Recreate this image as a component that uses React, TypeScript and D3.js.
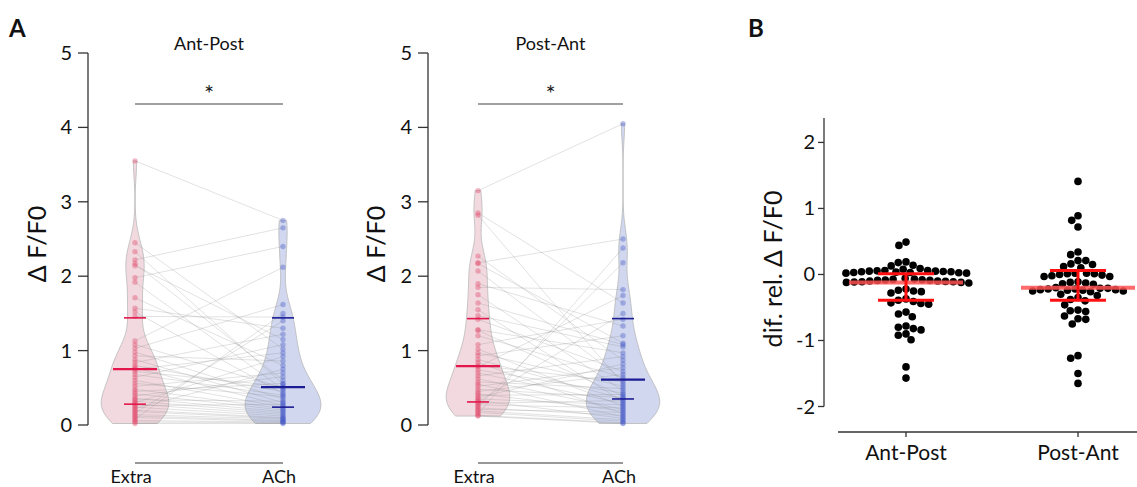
import React from "react";
import * as d3 from "d3";

// ---------------- DATA ----------------
const conditions = ["Extra", "ACh"];
const panelTitles = ["Ant-Post", "Post-Ant"];
const yTicksA = [0, 1, 2, 3, 4, 5];
const yTicksB = [-2, -1, 0, 1, 2];
const groupsB = ["Ant-Post", "Post-Ant"];

// paired values (index i of Extra pairs with index i of ACh)
const antPostExtra = [3.55, 2.45, 2.33, 2.22, 2.17, 2.14, 1.98, 1.92, 1.71, 1.57, 1.52, 1.46, 1.13, 1.08, 1.03, 0.98, 0.93, 0.88, 0.84, 0.8, 0.77, 0.75, 0.72, 0.68, 0.64, 0.6, 0.56, 0.52, 0.48, 0.45, 0.42, 0.39, 0.36, 0.34, 0.32, 0.3, 0.28, 0.26, 0.24, 0.22, 0.2, 0.18, 0.16, 0.14, 0.12, 0.1, 0.08, 0.06, 0.04, 0.02];
const antPostACh = [2.75, 1.02, 0.55, 2.65, 0.6, 1.15, 2.4, 0.48, 0.8, 1.3, 0.42, 1.45, 2.12, 0.5, 1.62, 0.35, 0.86, 0.3, 1.22, 0.45, 0.26, 0.97, 0.52, 0.4, 1.08, 0.24, 0.38, 0.7, 0.22, 0.56, 0.2, 0.65, 0.18, 0.32, 0.16, 0.92, 0.14, 0.28, 0.12, 0.75, 0.1, 0.09, 1.4, 0.08, 0.06, 0.05, 1.5, 0.04, 0.03, 0.02];
const postAntExtra = [3.15, 2.85, 2.82, 2.27, 2.18, 2.17, 2.07, 1.9, 1.85, 1.75, 1.64, 1.55, 1.47, 1.42, 1.28, 1.27, 1.2, 1.08, 1.02, 0.97, 0.93, 0.88, 0.84, 0.8, 0.78, 0.74, 0.7, 0.66, 0.62, 0.58, 0.55, 0.52, 0.48, 0.45, 0.42, 0.4, 0.37, 0.35, 0.33, 0.31, 0.29, 0.27, 0.25, 0.23, 0.21, 0.19, 0.17, 0.15, 0.13, 0.12];
const postAntACh = [4.05, 1.64, 0.55, 0.87, 2.5, 1.1, 0.61, 1.33, 1.82, 0.46, 1.08, 0.31, 1.05, 0.72, 0.97, 0.39, 0.64, 1.42, 0.25, 0.52, 1.2, 0.35, 0.15, 0.58, 1.74, 0.43, 0.29, 0.92, 0.21, 0.49, 0.11, 0.77, 0.37, 0.68, 0.19, 0.41, 0.82, 0.27, 0.09, 1.5, 0.33, 0.23, 2.18, 0.13, 0.17, 0.07, 0.05, 2.38, 0.03, 0.02];

// [lower, median, upper] lines drawn on each violin
const antPostExtraStats = [0.28, 0.75, 1.44];
const antPostAChStats = [0.24, 0.51, 1.44];
const postAntExtraStats = [0.31, 0.79, 1.43];
const postAntAChStats = [0.35, 0.61, 1.43];

// panel B
const diffAntPost = [0.49, 0.44, 0.19, 0.18, 0.14, 0.13, 0.09, 0.08,
  0.06, 0.06, 0.055, 0.05, 0.05, 0.045, 0.04, 0.04, 0.035, 0.03, 0.03, 0.025, 0.02, 0.02,
  -0.06, -0.07, -0.075, -0.08, -0.085, -0.09, -0.09, -0.1, -0.1, -0.105, -0.11, -0.11, -0.115, -0.12, -0.12, -0.13,
  -0.22, -0.24, -0.25, -0.26, -0.28, -0.37, -0.39, -0.41, -0.43, -0.44, -0.45, -0.57, -0.6, -0.64,
  -0.78, -0.8, -0.82, -0.84, -0.9, -0.92, -0.99, -1.4, -1.57];
const diffPostAnt = [1.41, 0.89, 0.82, 0.72, 0.34, 0.3, 0.21, 0.21, 0.16, 0.15, 0.12, 0.1,
  0.02, 0.02, 0.01, 0.01, 0.0, -0.01, -0.02, -0.03, -0.03,
  -0.11, -0.12, -0.13, -0.14, -0.15,
  -0.2, -0.21, -0.21, -0.22, -0.22, -0.23, -0.23, -0.24, -0.24, -0.25, -0.25, -0.26,
  -0.3, -0.32, -0.35, -0.38, -0.4,
  -0.46, -0.54, -0.55, -0.56, -0.63, -0.67, -0.68, -0.75, -1.23, -1.27, -1.5, -1.65];
// [q1, median, q3]
const statsAntPost = [-0.39, -0.12, 0.01];
const statsPostAnt = [-0.39, -0.2, 0.06];

// ---------------- STYLE ----------------
const FONT = "Lato, 'Open Sans', sans-serif";
const AX = "#333";
const extraCol = { fill: "rgba(214, 140, 158, 0.33)", dot: "rgba(225, 70, 105, 0.38)", line: "#e3174b" };
const achCol = { fill: "rgba(120, 140, 210, 0.35)", dot: "rgba(70, 90, 200, 0.38)", line: "#1c1c94" };

function kde(values: number[], bw: number, lo: number, hi: number, n = 80) {
  return d3.range(n + 1).map((i) => {
    const x = lo + ((hi - lo) * i) / n;
    const d = (d3.mean(values, (v) => Math.exp(-0.5 * ((x - v) / bw) ** 2)) as number) / (bw * Math.sqrt(2 * Math.PI));
    return [x, d] as [number, number];
  });
}

const BW = 0.22;
const allSets = [antPostExtra, antPostACh, postAntExtra, postAntACh];
const globalMax = d3.max(allSets, (s) => d3.max(kde(s, BW, d3.min(s)!, d3.max(s)!), (p) => p[1]))!;
const widthScale = 38 / globalMax;

const yA = d3.scaleLinear().domain([0, 5]).range([425, 53]);
const yB = d3.scaleLinear().domain([-2, 2.37]).range([406.5, 118]);

function Violin({ values, cx, col }: any) {
  const dens = kde(values, BW, d3.min(values)!, d3.max(values)!);
  const area = d3
    .area<[number, number]>()
    .y((p) => yA(p[0]))
    .x0((p) => cx - p[1] * widthScale)
    .x1((p) => cx + p[1] * widthScale)
    .curve(d3.curveBasis);
  return <path d={area(dens)!} fill={col.fill} stroke="#b9b9b9" strokeWidth={0.8} />;
}

function StatLines({ stats, cx, col }: any) {
  return (
    <g stroke={col.line}>
      <line x1={cx - 11} x2={cx + 11} y1={yA(stats[0])} y2={yA(stats[0])} strokeWidth={1.6} />
      <line x1={cx - 22} x2={cx + 22} y1={yA(stats[1])} y2={yA(stats[1])} strokeWidth={2.2} />
      <line x1={cx - 11} x2={cx + 11} y1={yA(stats[2])} y2={yA(stats[2])} strokeWidth={1.6} />
    </g>
  );
}

function PanelA({ title, extra, ach, statsE, statsA, axisX, xE, xA, labelX }: any) {
  return (
    <g fontFamily={FONT}>
      {/* y axis */}
      <line x1={axisX} x2={axisX} y1={yA(0)} y2={yA(5)} stroke={AX} strokeWidth={1.3} />
      {yTicksA.map((t) => (
        <g key={t}>
          <line x1={axisX - 10} x2={axisX} y1={yA(t)} y2={yA(t)} stroke={AX} strokeWidth={1.3} />
          <text x={axisX - 16} y={yA(t) + 7} textAnchor="end" fontSize={20} fill="#111">{t}</text>
        </g>
      ))}
      <text transform={`translate(${labelX},${(yA(0) + yA(5)) / 2 + 5}) rotate(-90)`} textAnchor="middle" fontSize={25} fill="#111">Δ F/F0</text>
      <text x={(xE + xA) / 2} y={50} textAnchor="middle" fontSize={18} fill="#111">{title}</text>
      {/* significance */}
      <line x1={xE} x2={xA} y1={104} y2={104} stroke="#444" strokeWidth={1.2} />
      <text x={(xE + xA) / 2} y={102} textAnchor="middle" fontSize={24} fill="#222">*</text>
      {/* violins */}
      <Violin values={extra} cx={xE} col={extraCol} />
      <Violin values={ach} cx={xA} col={achCol} />
      {/* paired lines */}
      {extra.map((v: number, i: number) => (
        <line key={i} x1={xE} x2={xA} y1={yA(v)} y2={yA(ach[i])} stroke="#8a8a8a" strokeOpacity={0.42} strokeWidth={0.6} />
      ))}
      {extra.map((v: number, i: number) => (
        <circle key={"e" + i} cx={xE} cy={yA(v)} r={2.7} fill={extraCol.dot} />
      ))}
      {ach.map((v: number, i: number) => (
        <circle key={"a" + i} cx={xA} cy={yA(v)} r={2.7} fill={achCol.dot} />
      ))}
      <StatLines stats={statsE} cx={xE} col={extraCol} />
      <StatLines stats={statsA} cx={xA} col={achCol} />
      {/* bottom axis */}
      <line x1={xE} x2={xA} y1={463} y2={463} stroke={AX} strokeWidth={1.2} />
      <text x={xE - 4} y={483} textAnchor="middle" fontSize={18} fill="#111">{conditions[0]}</text>
      <text x={xA - 4} y={483} textAnchor="middle" fontSize={18} fill="#111">{conditions[1]}</text>
    </g>
  );
}

function swarm(values: number[], cx: number, d: number) {
  const placed: { x: number; y: number }[] = [];
  const sorted = [...values].sort((a, b) => b - a);
  for (const v of sorted) {
    const y = yB(v);
    const intervals: [number, number][] = [];
    for (const p of placed) {
      const dy = Math.abs(p.y - y);
      if (dy < d) {
        const dx = Math.sqrt(d * d - dy * dy);
        intervals.push([p.x - dx, p.x + dx]);
      }
    }
    const candidates = [0];
    intervals.forEach(([a, b]) => candidates.push(a, b));
    candidates.sort((a, b) => Math.abs(a) - Math.abs(b));
    let best = 0;
    for (const c of candidates) {
      if (intervals.every(([a, b]) => c <= a + 1e-6 || c >= b - 1e-6)) {
        best = c;
        break;
      }
    }
    placed.push({ x: best, y });
  }
  return placed.map((p) => ({ x: cx + p.x, y: p.y }));
}

function PanelB() {
  const axisX = 824;
  const xB = d3.scalePoint<string>().domain(groupsB).range([906, 1078]);
  const sets = [diffAntPost, diffPostAnt];
  const stats = [statsAntPost, statsPostAnt];
  return (
    <g fontFamily={FONT}>
      <line x1={axisX} x2={axisX} y1={118} y2={yB(-2)} stroke={AX} strokeWidth={1.3} />
      {yTicksB.map((t) => (
        <g key={t}>
          <line x1={axisX - 6} x2={axisX} y1={yB(t)} y2={yB(t)} stroke={AX} strokeWidth={1.3} />
          <text x={axisX - 9} y={yB(t) + 7} textAnchor="end" fontSize={20} fill="#111">{t}</text>
        </g>
      ))}
      <text transform={`translate(782,${269}) rotate(-90)`} textAnchor="middle" fontSize={25} fill="#111">dif. rel. Δ F/F0</text>
      <line x1={838} x2={1137} y1={432} y2={432} stroke={AX} strokeWidth={1.3} />
      {groupsB.map((g, gi) => {
        const cx = xB(g)!;
        const pts = swarm(sets[gi], cx, 7.8);
        const [q1, med, q3] = stats[gi];
        return (
          <g key={g}>
            <line x1={cx} x2={cx} y1={432} y2={437} stroke={AX} strokeWidth={1.3} />
            <text x={cx} y={460} textAnchor="middle" fontSize={21} fill="#111">{g}</text>
            {pts.map((p, i) => (
              <circle key={i} cx={p.x} cy={p.y} r={3.8} fill="#000" />
            ))}
            <line x1={cx - 57} x2={cx + 57} y1={yB(med)} y2={yB(med)} stroke="#ff5050" strokeOpacity={0.85} strokeWidth={4} />
            <g stroke="#ff1010" strokeWidth={3}>
              <line x1={cx} x2={cx} y1={yB(q3)} y2={yB(q1)} />
              <line x1={cx - 28} x2={cx + 28} y1={yB(q3)} y2={yB(q3)} />
              <line x1={cx - 28} x2={cx + 28} y1={yB(q1)} y2={yB(q1)} />
            </g>
          </g>
        );
      })}
    </g>
  );
}

export default function App() {
  return (
    <svg width={1137} height={487} style={{ position: "absolute", left: 0, top: 0, background: "#fff" }}>
      <text x={9} y={37} fontFamily={FONT} fontWeight="bold" fontSize={24} fill="#111">A</text>
      <text x={748} y={37} fontFamily={FONT} fontWeight="bold" fontSize={24} fill="#111">B</text>
      <PanelA title={panelTitles[0]} extra={antPostExtra} ach={antPostACh} statsE={antPostExtraStats} statsA={antPostAChStats} axisX={88} xE={135} xA={283} labelX={46} />
      <PanelA title={panelTitles[1]} extra={postAntExtra} ach={postAntACh} statsE={postAntExtraStats} statsA={postAntAChStats} axisX={428} xE={478} xA={623} labelX={385} />
      <PanelB />
    </svg>
  );
}
